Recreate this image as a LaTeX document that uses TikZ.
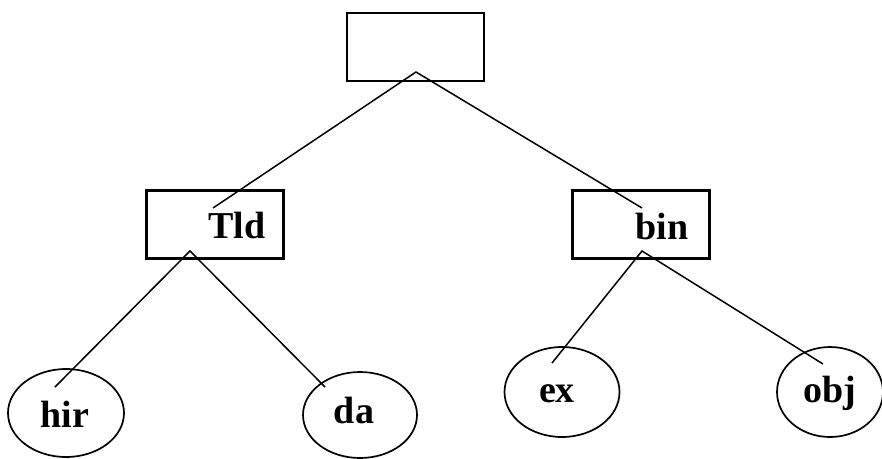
\documentclass[tikz,border=0pt]{standalone}
\usepackage{fontspec}
\setmainfont{Liberation Serif}
\usetikzlibrary{shapes.geometric}
\begin{document}
\begin{tikzpicture}[x=1pt,y=-1pt,
  rootbox/.style={draw, line width=1.5pt, minimum width=137pt, minimum height=68pt, inner sep=0pt},
  catbox/.style={draw, line width=3pt, minimum width=137pt, minimum height=68pt, inner sep=0pt},
  leaf/.style={draw, ellipse, line width=1.7pt, inner sep=0pt},
  word/.style={font=\fontsize{38}{40}\selectfont\bfseries, inner sep=0pt},
  edge/.style={line width=1.5pt}]
\useasboundingbox (0,0) rectangle (882,458);

% tree nodes
\node[rootbox] (root) at (415.5,47) {};
\node[catbox] (tld) at (214.5,224) {};
\node[word] (tldtxt) at (237,225) {Tld};
\node[catbox] (bin) at (640.5,224) {};
\node[word] (bintxt) at (662,226) {bin};

\node[leaf, minimum width=116pt, minimum height=88pt] (hir) at (66,413) {};
\node[word] (hirtxt) at (65,414) {hir};
\node[leaf, minimum width=114pt, minimum height=86pt] (da) at (360,415) {};
\node[word] (datxt) at (354,410) {da};
\node[leaf, minimum width=115pt, minimum height=90pt] (ex) at (562,392) {};
\node[word] (extxt) at (557,394) {ex};
\node[leaf, minimum width=106pt, minimum height=90pt] (obj) at (830,392) {};
\node[word] (objtxt) at (830,393) {obj};

% connector end points
\coordinate (rootapex) at (416,72);
\coordinate (tldin) at (213,208);
\coordinate (binin) at (642,208);
\coordinate (tldapex) at (190,251);
\coordinate (binapex) at (642,251);
\coordinate (hirin) at (55,387);
\coordinate (dain) at (325,387);
\coordinate (exin) at (552,363);
\coordinate (objin) at (823,364);

% edges
\draw[edge] (tldin) -- (rootapex) -- (binin);
\draw[edge] (hirin) -- (tldapex) -- (dain);
\draw[edge] (exin) -- (binapex) -- (objin);
\end{tikzpicture}
\end{document}
